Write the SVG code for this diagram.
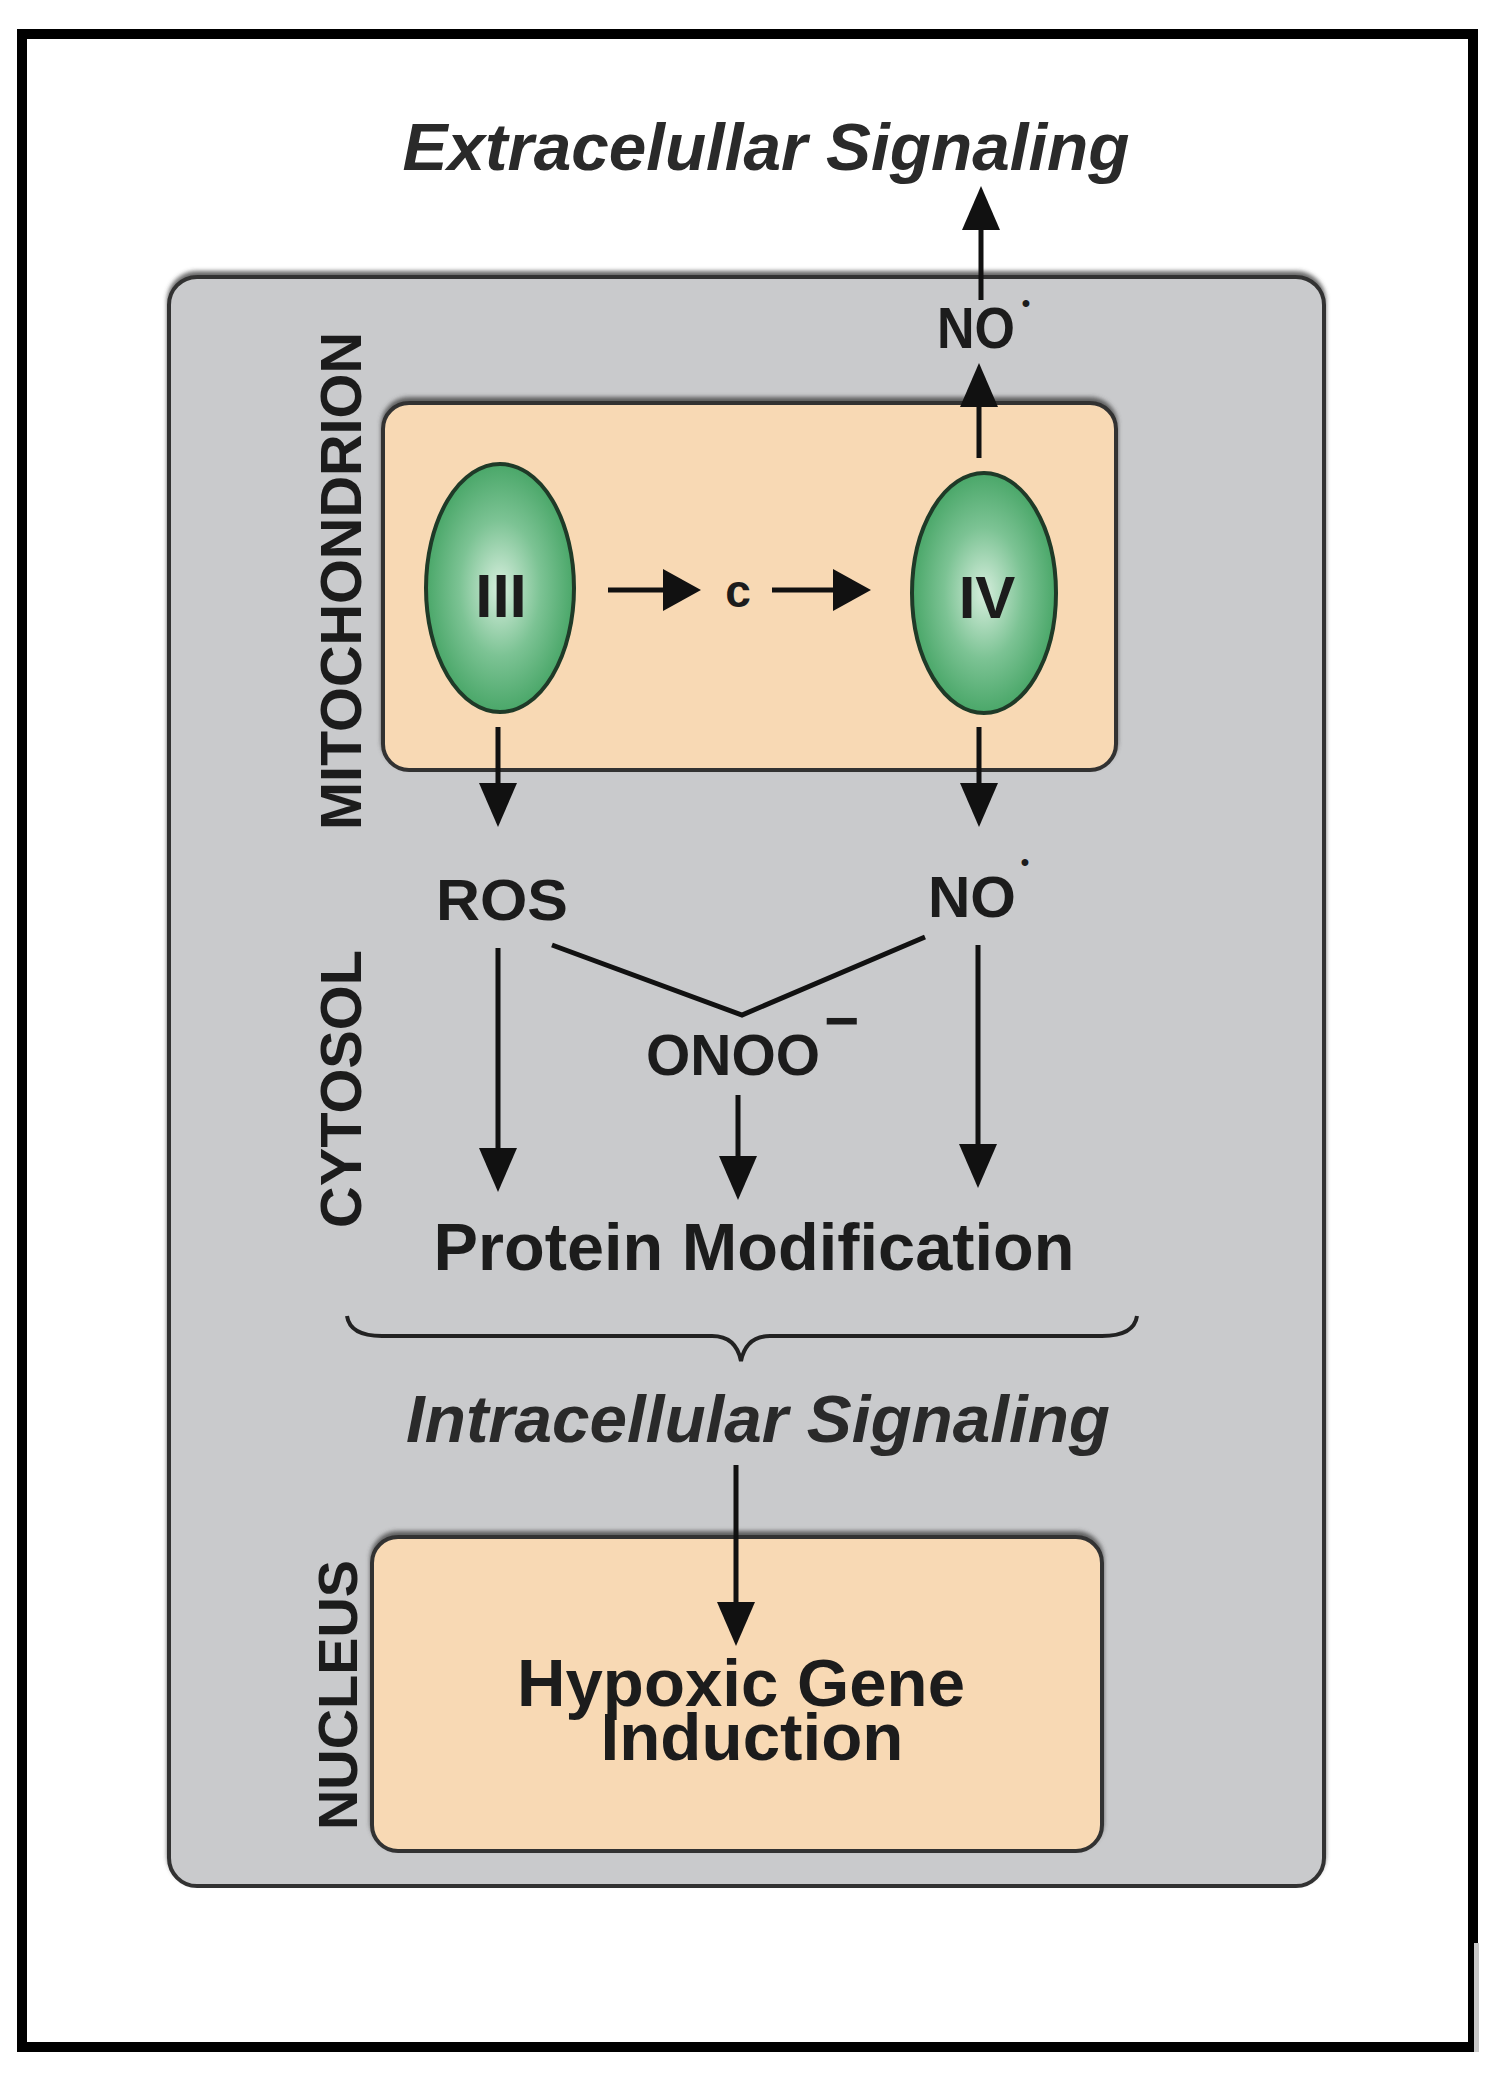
<svg xmlns="http://www.w3.org/2000/svg" width="1500" height="2082" viewBox="0 0 1500 2082">
<style>
.lbl{font-family:"Liberation Sans",Arial,sans-serif;font-weight:bold;fill:#1c1c1c}
.it{font-style:italic;fill:#2a2a2a}
.ln{stroke:#111;stroke-width:5;fill:none}
.box{stroke:#333;stroke-width:4}
</style>
<defs>
<marker id="ah" markerUnits="userSpaceOnUse" viewBox="0 -20 44 40" refX="2" refY="0" markerWidth="44" markerHeight="40" orient="auto">
<path d="M0,-19 L44,0 L0,19 Z" fill="#111"/>
</marker>
<marker id="ahs" markerUnits="userSpaceOnUse" viewBox="0 -22 38 44" refX="2" refY="0" markerWidth="38" markerHeight="44" orient="auto">
<path d="M0,-21 L38,0 L0,21 Z" fill="#111"/>
</marker>
<radialGradient id="gr" cx="0.5" cy="0.5" r="0.5">
<stop offset="0" stop-color="#d6eedd"/>
<stop offset="0.55" stop-color="#7cc394"/>
<stop offset="1" stop-color="#4aa769"/>
</radialGradient>
<filter id="sh" x="-5%" y="-5%" width="110%" height="110%">
<feDropShadow dx="0" dy="-4" stdDeviation="2" flood-color="#444" flood-opacity="0.8"/>
</filter>
</defs>
<rect x="0" y="0" width="1500" height="2082" fill="#ffffff"/>
<g id="frame">
<rect x="22" y="34" width="1451" height="2013" fill="#ffffff" stroke="#000" stroke-width="10"/>
<rect x="1474" y="1943" width="5" height="109" fill="#c8c8c8"/>
</g>
<g id="cell">
<rect class="box" x="169" y="277" width="1155" height="1609" rx="28" fill="#c9cacc" filter="url(#sh)"/>
</g>
<g id="mitochondrion">
<rect class="box" x="383" y="403" width="733" height="367" rx="26" fill="#f8d9b4" filter="url(#sh)"/>
<text class="lbl" transform="translate(361,581) rotate(-90)" text-anchor="middle" font-size="57" textLength="498" lengthAdjust="spacingAndGlyphs">MITOCHONDRION</text>
</g>
<g id="complexIII">
<ellipse cx="500" cy="588" rx="74" ry="124" fill="url(#gr)" stroke="#1f3a28" stroke-width="4"/>
<text class="lbl" x="501" y="617" text-anchor="middle" font-size="62">III</text>
</g>
<g id="complexIV">
<ellipse cx="984" cy="593" rx="72" ry="120" fill="url(#gr)" stroke="#1f3a28" stroke-width="4"/>
<text class="lbl" x="987" y="618" text-anchor="middle" font-size="60">IV</text>
</g>
<g id="cytc">
<text class="lbl" x="738" y="607" text-anchor="middle" font-size="46">c</text>
</g>
<g id="extracellular">
<text class="lbl it" x="766" y="170" text-anchor="middle" font-size="67" textLength="727" lengthAdjust="spacingAndGlyphs">Extracelullar Signaling</text>
</g>
<g id="no-top">
<text class="lbl" x="976" y="348" text-anchor="middle" font-size="58" textLength="78" lengthAdjust="spacingAndGlyphs">NO</text>
<text class="lbl" x="1026" y="311" text-anchor="middle" font-size="24">•</text>
</g>
<g id="ros">
<text class="lbl" x="502" y="920" text-anchor="middle" font-size="58" textLength="132" lengthAdjust="spacingAndGlyphs">ROS</text>
</g>
<g id="no-cyt">
<text class="lbl" x="972" y="917" text-anchor="middle" font-size="58" textLength="88" lengthAdjust="spacingAndGlyphs">NO</text>
<text class="lbl" x="1025" y="870" text-anchor="middle" font-size="24">•</text>
</g>
<g id="onoo">
<text class="lbl" x="733" y="1075" text-anchor="middle" font-size="57" textLength="174" lengthAdjust="spacingAndGlyphs">ONOO</text>
<text class="lbl" x="824" y="1041" font-size="60">−</text>
</g>
<g id="cytosol-label">
<text class="lbl" transform="translate(361,1089) rotate(-90)" text-anchor="middle" font-size="57" textLength="278" lengthAdjust="spacingAndGlyphs">CYTOSOL</text>
</g>
<g id="protein">
<text class="lbl" x="754" y="1270" text-anchor="middle" font-size="67" textLength="641" lengthAdjust="spacingAndGlyphs">Protein Modification</text>
</g>
<g id="intracellular">
<path d="M347,1316 Q350,1336 382,1336 L712,1336 Q736,1336 741,1361 Q746,1336 770,1336 L1102,1336 Q1134,1336 1137,1316" fill="none" stroke="#222" stroke-width="4"/>
<text class="lbl it" x="758" y="1442" text-anchor="middle" font-size="67" textLength="704" lengthAdjust="spacingAndGlyphs">Intracellular Signaling</text>
</g>
<g id="nucleus">
<rect class="box" x="372" y="1537" width="730" height="314" rx="26" fill="#f8d9b4" filter="url(#sh)"/>
<text class="lbl" transform="translate(357,1695) rotate(-90)" text-anchor="middle" font-size="56" textLength="270" lengthAdjust="spacingAndGlyphs">NUCLEUS</text>
<text class="lbl" x="741" y="1706" text-anchor="middle" font-size="66" textLength="448" lengthAdjust="spacingAndGlyphs">Hypoxic Gene</text>
<text class="lbl" x="752" y="1760" text-anchor="middle" font-size="66" textLength="303" lengthAdjust="spacingAndGlyphs">Induction</text>
</g>
<g id="connectors">
<path class="ln" d="M981,300 V228" marker-end="url(#ah)"/>
<path class="ln" d="M979,458 V405" marker-end="url(#ah)"/>
<path class="ln" d="M498,727 V785" marker-end="url(#ah)"/>
<path class="ln" d="M979,727 V785" marker-end="url(#ah)"/>
<path class="ln" d="M608,590 H665" stroke-width="7" marker-end="url(#ahs)"/>
<path class="ln" d="M772,590 H835" stroke-width="7" marker-end="url(#ahs)"/>
<polyline class="ln" points="552,945 742,1015 925,937" stroke-width="6"/>
<path class="ln" d="M498,948 V1150" marker-end="url(#ah)"/>
<path class="ln" d="M738,1095 V1158" marker-end="url(#ah)"/>
<path class="ln" d="M978,945 V1146" marker-end="url(#ah)"/>
<path class="ln" d="M736,1465 V1604" marker-end="url(#ah)"/>
</g>
</svg>
